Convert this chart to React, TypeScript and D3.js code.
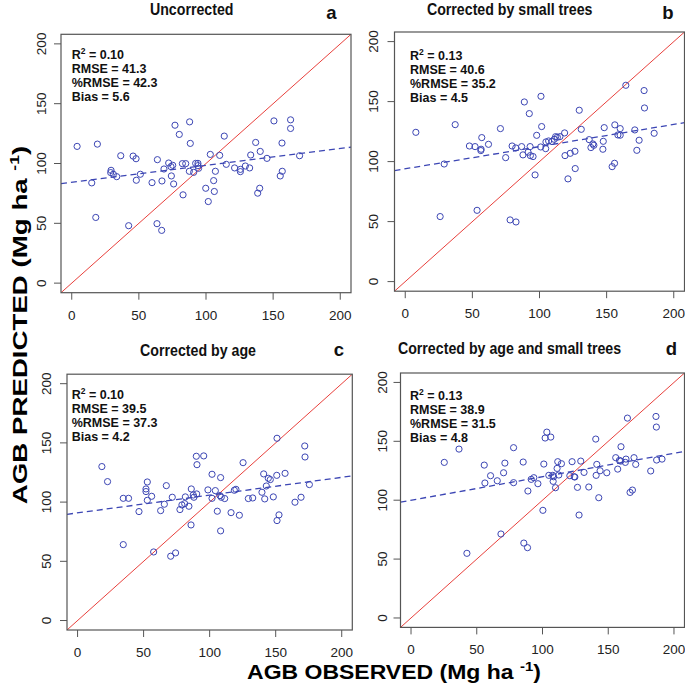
import React from "react";
import * as d3 from "d3";

// ---------- DATA ----------
const panelTitles = ["Uncorrected", "Corrected by small trees", "Corrected by age", "Corrected by age and small trees"];
const panelLetters = ["a", "b", "c", "d"];
const r2Values = ["0.10", "0.13", "0.10", "0.13"];
const rmseValues = ["41.3", "40.6", "39.5", "38.9"];
const pctRmseValues = ["42.3", "35.2", "37.3", "31.5"];
const biasValues = ["5.6", "4.5", "4.2", "4.8"];
const fitIntercepts = [84.3, 94.0, 90.9, 100.0];
const fitSlopes = [0.141, 0.185, 0.150, 0.199];
const tickValues = [0, 50, 100, 150, 200];
const axisDomain = [-8, 208];

const obsA = [4, 14.9, 19.1, 17.9, 29.3, 29, 31, 33.5, 36.5, 42.4, 45.7, 47.9, 48.1, 51.1, 59.8, 63.8, 63.5, 67, 67.2, 68.7, 72.2, 73.9, 75.2, 74.2, 75.9, 76.9, 80.1, 82.4, 82.9, 84.9, 87.8, 88.3, 87.6, 90.8, 92.3, 94, 94.5, 94, 99.8, 101.7, 103.2, 105.7, 106.2, 107, 110.2, 113.6, 115.1, 121.3, 125.6, 125.6, 129.3, 132.5, 133.3, 137, 138.5, 140, 140.4, 145.4, 150.6, 155.3, 156.8, 156.6, 163, 163, 169.7];
const predA = [114.3, 83.8, 116.2, 54.9, 94.3, 92.4, 91, 89, 106.5, 48, 106.2, 104, 86, 91, 84, 103.2, 49.7, 44.1, 85.4, 95.4, 100.4, 97.4, 98.5, 89.6, 82.9, 132, 124.3, 99.9, 73.8, 99.9, 134.8, 116.8, 93.5, 92.6, 100.1, 100.1, 96, 98.2, 79.3, 68.2, 107.6, 85.7, 76.6, 93.5, 106.8, 122.9, 99.3, 96.3, 95.1, 93.2, 97.9, 96.3, 107.1, 117.6, 75.2, 79.3, 110.1, 104.3, 135.6, 89.6, 93.5, 117.1, 136.5, 129.3, 106.5];

const obsB = [7.9, 29, 26, 37.2, 47.8, 52, 56.5, 56.3, 57, 62, 53.5, 70.9, 74.8, 79.6, 82.3, 78.1, 82.5, 86.7, 87.7, 88.7, 91.5, 92.4, 93, 93.2, 95.2, 96.7, 97.9, 100.9, 101.1, 101.6, 104.6, 104.8, 106.8, 109.3, 111, 112, 113.3, 115.2, 118.7, 119, 121.2, 122.9, 126.4, 126.6, 129.6, 131.1, 137, 138.3, 139.8, 140.5, 147.2, 147.5, 148.2, 154.1, 155.9, 156.1, 158.4, 160.1, 160.1, 164.3, 171, 172.5, 174.2, 177.9, 178.2, 185.4];
const predB = [124.4, 98, 54.2, 130.8, 113, 112.5, 110.3, 109.2, 120, 114.4, 59.4, 127.5, 103.3, 113, 111.4, 51.4, 49.7, 112.5, 105.6, 149.7, 107.8, 140, 112.5, 105, 104.2, 88.9, 121.9, 112.2, 154.4, 129.2, 110.8, 116.4, 117.2, 116.7, 118.6, 120.8, 120.3, 120.8, 123.9, 105, 85.6, 106.9, 108.6, 94.2, 142.8, 126.9, 118.3, 111.7, 114.7, 113.6, 110.3, 116.9, 128.3, 95.8, 98.6, 130.6, 122.2, 127.5, 122, 163.6, 126.4, 109.4, 117.8, 159.2, 144.7, 123.6];

const obsC = [18.4, 22.7, 34.6, 38.6, 34.6, 46.5, 51.8, 51.8, 52.8, 52.8, 56.1, 57.6, 62.9, 65.7, 67.2, 70.5, 71.7, 74.2, 77.5, 79, 81.1, 81.6, 84.3, 85.9, 86.1, 87.6, 88.1, 89.9, 90.4, 90.2, 95.5, 98.7, 101.8, 101.8, 104.3, 105.8, 107.8, 108.3, 108.3, 108.8, 111.4, 116.2, 118.7, 119.9, 122.5, 125.3, 129.3, 132.6, 139.6, 140.9, 141.7, 142.9, 144.4, 145.9, 148.2, 150.8, 151, 151, 152.5, 157.1, 164.6, 169.2, 172, 172.2, 175.5];
const predC = [130, 117.3, 103.2, 103.2, 64.1, 92, 111.1, 108.9, 117, 101.5, 104.9, 57.9, 92.8, 98.2, 113.9, 54.3, 104.1, 57.1, 93.7, 97.6, 98.7, 104.4, 96.5, 80.7, 111.1, 106, 104.1, 138.7, 131.6, 106.9, 139, 110.3, 123.5, 103.2, 109.7, 92.3, 105.5, 120.7, 75.7, 104.1, 103, 91.1, 110, 110.8, 88.9, 133.3, 103, 103.5, 108.3, 123.8, 102.7, 113.6, 120.1, 119, 104.4, 122.6, 153.9, 84.4, 89.2, 124.3, 99.9, 104.1, 147.4, 138.1, 114.8];

const obsD = [25.3, 36.5, 42.5, 55.7, 56.2, 60.5, 65.6, 68.4, 70.4, 71.4, 78, 78, 85.3, 85.8, 88.6, 88.9, 91.4, 93.4, 96.5, 100.3, 101, 102, 103.3, 104.8, 106.3, 107.8, 108.1, 108.4, 109.9, 111.1, 111.6, 112.4, 114.4, 120.8, 122.5, 124.1, 124.6, 126.6, 127.8, 129.1, 131.6, 135.2, 140.5, 140.8, 141.3, 142.8, 143.8, 148.9, 155.7, 157.2, 158.5, 159.5, 159.7, 163, 163.5, 164.6, 166.6, 168.4, 169.6, 170.9, 182.3, 186.3, 186.6, 186.8, 190.9];
const predD = [132.1, 143.4, 54.9, 129.8, 114.6, 120.8, 116.5, 71.3, 123.3, 131.5, 144.6, 114.9, 132.4, 63.6, 59.7, 107.8, 117.7, 119.1, 114, 91.4, 130.7, 152.8, 157.8, 121.1, 153.6, 121.1, 116, 119.9, 110.6, 127, 132.7, 121.4, 131, 120.8, 132.7, 119.9, 119.7, 110.9, 87.4, 133.2, 123.6, 111.2, 151.9, 121.1, 130.4, 102.1, 125, 123.3, 136.1, 126.4, 133.8, 133.2, 145.4, 132.1, 134.9, 169.7, 106.6, 108.6, 136.1, 130.4, 124.8, 171.1, 162.1, 134.1, 134.9];

const observedSets = [obsA, obsB, obsC, obsD];
const predictedSets = [predA, predB, predC, predD];

// ---------- LAYOUT ----------
const boxes = [
  { l: 61, r: 351, t: 34.3, b: 292.7, titleX: 191.7, titleY: 15, letterX: 331.3, letterY: 18.5, sx: 71.7, sy: 59, yLab: 20 },
  { l: 394.5, r: 684.5, t: 32, b: 291.2, titleX: 509.7, titleY: 14.5, letterX: 668, letterY: 18.5, sx: 410, sy: 60, yLab: 21 },
  { l: 67, r: 352.3, t: 374.2, b: 630, titleX: 198, titleY: 355.7, letterX: 339, letterY: 356, sx: 71.7, sy: 399, yLab: 21 },
  { l: 400.5, r: 684.5, t: 373, b: 627.4, titleX: 509.5, titleY: 354.3, letterX: 671.5, letterY: 355, sx: 410, sy: 399.5, yLab: 18 },
];

const BLUE = "#3c46b4";
const RED = "#e8403c";
const FONT = "'Liberation Sans', Arial, Helvetica, sans-serif";

function Panel({ i }: { i: number }) {
  const bx = boxes[i];
  const x = d3.scaleLinear().domain(axisDomain).range([bx.l, bx.r]);
  const y = d3.scaleLinear().domain(axisDomain).range([bx.b, bx.t]);
  const obs = observedSets[i];
  const pred = predictedSets[i];
  const line = d3.line<number>().x((v) => x(v)).y((v) => y(v));
  const fit = d3
    .line<number>()
    .x((v) => x(v))
    .y((v) => y(fitIntercepts[i] + fitSlopes[i] * v));
  const clipId = `clip-${i}`;
  const statLines = [
    null,
    `RMSE = ${rmseValues[i]}`,
    `%RMSE = ${pctRmseValues[i]}`,
    `Bias = ${biasValues[i]}`,
  ];
  return (
    <g>
      <defs>
        <clipPath id={clipId}>
          <rect x={bx.l} y={bx.t} width={bx.r - bx.l} height={bx.b - bx.t} />
        </clipPath>
      </defs>
      <g clipPath={`url(#${clipId})`}>
        <path d={line(axisDomain) || ""} stroke={RED} strokeWidth={1} fill="none" />
        <path d={fit(axisDomain) || ""} stroke={BLUE} strokeWidth={1.3} strokeDasharray="6,4" fill="none" />
        {obs.map((o, k) => (
          <circle key={k} cx={x(o)} cy={y(pred[k])} r={3.1} fill="none" stroke={BLUE} strokeWidth={1} />
        ))}
      </g>
      <rect x={bx.l} y={bx.t} width={bx.r - bx.l} height={bx.b - bx.t} fill="none" stroke="#555" strokeWidth={1.2} />
      {tickValues.map((t) => (
        <g key={"x" + t}>
          <line x1={x(t)} x2={x(t)} y1={bx.b} y2={bx.b + 7} stroke="#555" strokeWidth={1} />
          <text x={x(t)} y={bx.b + 27} textAnchor="middle" fontSize={13.5} fontFamily={FONT} fill="#222">
            {t}
          </text>
        </g>
      ))}
      {tickValues.map((t) => (
        <g key={"y" + t}>
          <line x1={bx.l - 7} x2={bx.l} y1={y(t)} y2={y(t)} stroke="#555" strokeWidth={1} />
          <text
            transform={`translate(${bx.l - bx.yLab},${y(t)}) rotate(-90)`}
            textAnchor="middle"
            dominantBaseline="central"
            fontSize={13.5}
            fontFamily={FONT}
            fill="#222"
          >
            {t}
          </text>
        </g>
      ))}
      <text
        transform={`translate(${bx.titleX},${bx.titleY}) scale(1,1.2)`}
        textAnchor="middle"
        fontSize={14.2}
        fontWeight="bold"
        fontFamily={FONT}
        fill="#111"
      >
        {panelTitles[i]}
      </text>
      <text
        x={bx.letterX}
        y={bx.letterY}
        textAnchor="middle"
        fontSize={18.5}
        fontWeight="bold"
        fontFamily={FONT}
        fill="#111"
      >
        {panelLetters[i]}
      </text>
      <text x={bx.sx} y={bx.sy} fontSize={12.5} fontWeight="bold" fontFamily={FONT} fill="#111">
        R<tspan fontSize={8.5} dy={-5}>2</tspan>
        <tspan dy={5}>{` = ${r2Values[i]}`}</tspan>
      </text>
      {statLines.map((s, k) =>
        s ? (
          <text key={k} x={bx.sx} y={bx.sy + k * 14} fontSize={12.5} fontWeight="bold" fontFamily={FONT} fill="#111">
            {s}
          </text>
        ) : null
      )}
    </g>
  );
}

export default function App() {
  return (
    <svg
      width={685}
      height={695}
      style={{ position: "absolute", left: 0, top: 0, background: "#fff" }}
    >
      <rect x={0} y={0} width={685} height={695} fill="#fff" />
      {[0, 1, 2, 3].map((i) => (
        <Panel key={i} i={i} />
      ))}
      <text
        transform="translate(394,679) scale(1.15,1)"
        textAnchor="middle"
        fontSize={20}
        fontWeight="bold"
        fontFamily={FONT}
        fill="#000"
      >
        AGB OBSERVED (Mg ha <tspan fontSize={13} dy={-8}>-1</tspan>
        <tspan dy={8}>)</tspan>
      </text>
      <text
        transform="translate(27,325) rotate(-90) scale(1.35,1)"
        textAnchor="middle"
        fontSize={20.5}
        fontWeight="bold"
        fontFamily={FONT}
        fill="#000"
      >
        AGB PREDICTED (Mg ha <tspan fontSize={13} dy={-8}>-1</tspan>
        <tspan dy={8}>)</tspan>
      </text>
    </svg>
  );
}
